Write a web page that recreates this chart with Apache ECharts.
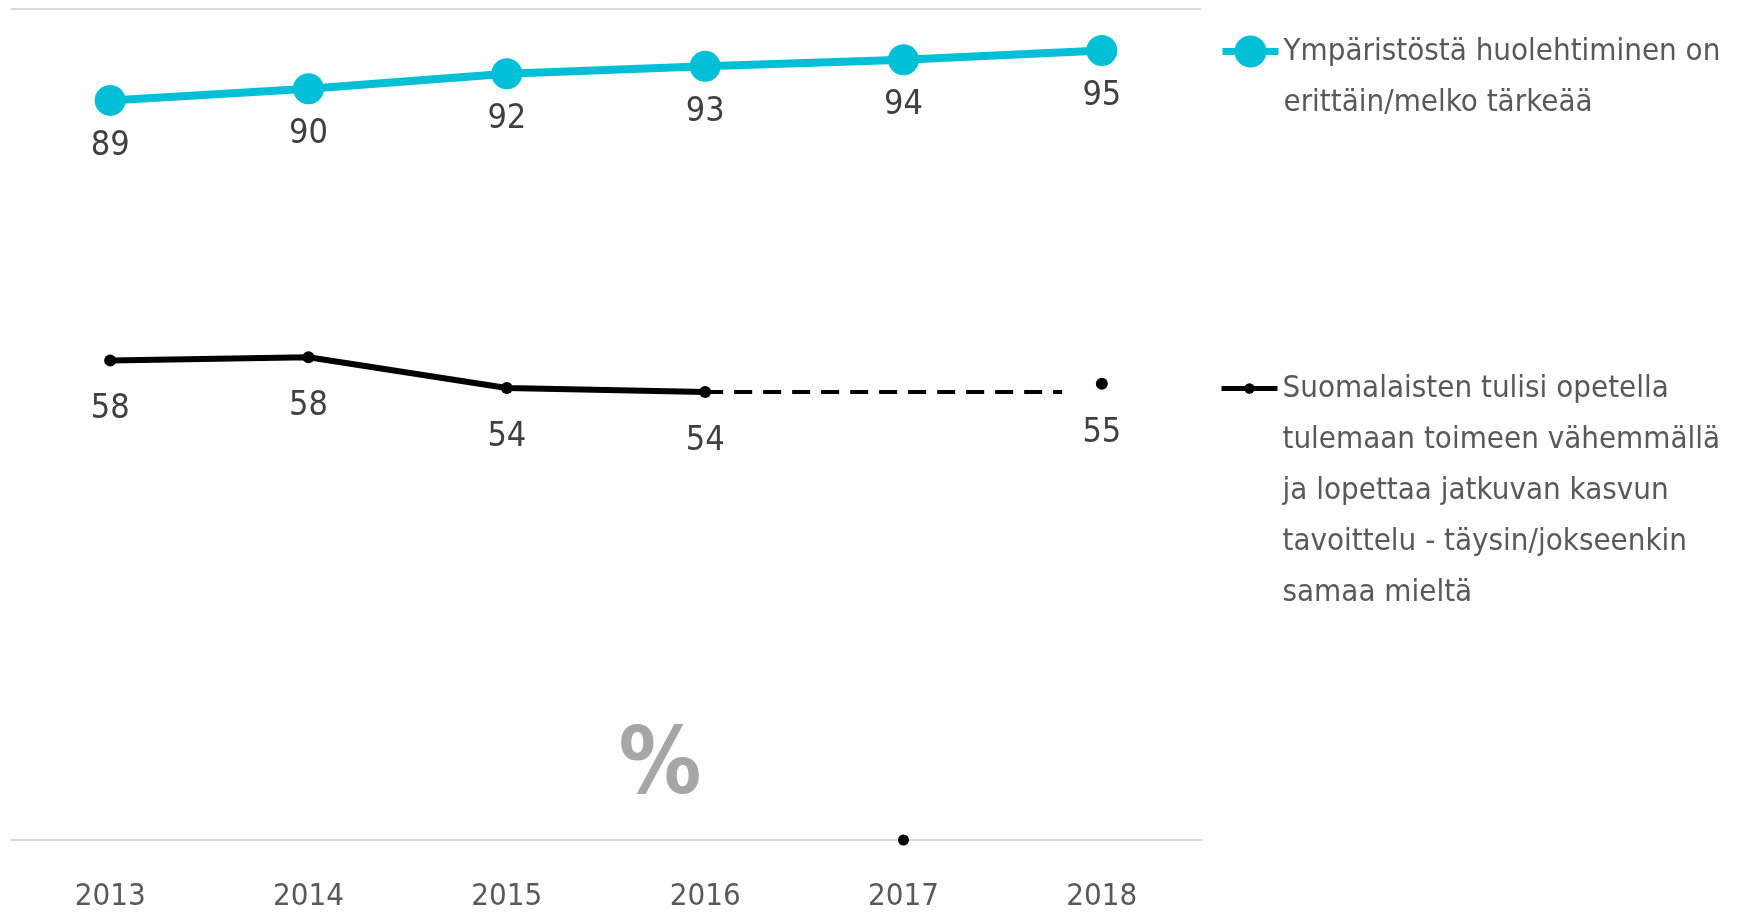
<!DOCTYPE html>
<html>
<head>
<meta charset="utf-8">
<script src="https://cdn.jsdelivr.net/npm/echarts@6/dist/echarts.min.js"></script>
<style>
  html, body { margin: 0; padding: 0; background: #fff; }
  #chart { width: 1737px; height: 913px; }
</style>
</head>
<body>
<div id="chart"></div>
<script>
const years = ['2013', '2014', '2015', '2016', '2017', '2018']
const envName = 'Ympäristöstä huolehtiminen on erittäin/melko tärkeää'
const envValues = [89.0, 90.4, 92.2, 93.1, 93.9, 95.0]
const growthName = 'Suomalaisten tulisi opetella tulemaan toimeen vähemmällä ja lopettaa jatkuvan kasvun tavoittelu - täysin/jokseenkin samaa mieltä'
const growthValues = [57.7, 58.1, 54.4, 53.9, 0, 54.9]
// dashed connector from 2016 towards 2018 (category index units)
const dashStart = 3
const dashEnd = 4.8

const FONT = "'DejaVu Sans Condensed', 'DejaVu Sans', sans-serif"
const CYAN = '#00bfd6'

// legend text split into lines like the reference
const legendLines = {}
legendLines[envName] = ['Ympäristöstä huolehtiminen on', 'erittäin/melko tärkeää']
legendLines[growthName] = ['Suomalaisten tulisi opetella', 'tulemaan toimeen vähemmällä', 'ja lopettaa jatkuvan kasvun', 'tavoittelu - täysin/jokseenkin', 'samaa mieltä']

const LH = 51
// empty lines on top keep the first text line level with the icon
function legendItem(name, top, itemHeight, lineWidth) {
  const lines = legendLines[name]
  return {
    data: [name],
    left: 1219,
    top: top,
    padding: 0,
    itemWidth: 56,
    itemHeight: itemHeight,
    selectedMode: false,
    lineStyle: { width: lineWidth },
    formatter: () => '\n'.repeat(lines.length - 1) + lines.join('\n'),
    textStyle: {
      fontFamily: FONT,
      fontSize: 31,
      color: '#595959',
      lineHeight: LH
    }
  }
}

const chart = echarts.init(document.getElementById('chart'))
chart.setOption({
  animation: false,
  grid: { left: 11, right: 536, top: 9, bottom: 73 },
  legend: [
    legendItem(envName, -25, 40, 7),
    legendItem(growthName, 159, 13, 5)
  ],
  xAxis: [{
    type: 'category',
    data: years,
    boundaryGap: true,
    axisLine: { lineStyle: { color: '#d9d9d9', width: 2 } },
    axisTick: { show: false },
    axisLabel: { fontFamily: FONT, fontSize: 31, color: '#595959', margin: 41 }
  }, {
    type: 'value',
    min: -0.5,
    max: 5.5,
    show: false
  }],
  yAxis: {
    type: 'value',
    min: 0,
    max: 100,
    interval: 100,
    axisLabel: { show: false },
    axisLine: { show: false },
    axisTick: { show: false },
    splitLine: { lineStyle: { color: '#d9d9d9', width: 2 } }
  },
  graphic: [{
    type: 'text',
    x: 660,
    y: 769,
    style: {
      text: '%',
      fontFamily: FONT,
      fontWeight: 'bold',
      fontSize: 92,
      fill: '#a6a6a6',
      align: 'center',
      verticalAlign: 'middle'
    }
  }],
  series: [{
    name: envName,
    type: 'line',
    data: envValues,
    symbol: 'circle',
    symbolSize: 31,
    color: CYAN,
    lineStyle: { width: 8, color: CYAN },
    label: {
      show: true,
      position: 'bottom',
      distance: 13,
      fontFamily: FONT,
      fontSize: 34,
      lineHeight: 34,
      color: '#404040',
      formatter: p => Math.round(p.value)
    }
  }, {
    name: growthName,
    type: 'line',
    data: growthValues.map(v => v === 0 ? null : v),
    connectNulls: false,
    symbol: 'circle',
    symbolSize: 12,
    color: '#000',
    lineStyle: { width: 6, color: '#000' },
    label: {
      show: true,
      position: 'bottom',
      distance: 26,
      fontFamily: FONT,
      fontSize: 34,
      lineHeight: 34,
      color: '#404040',
      formatter: p => Math.round(p.value)
    }
  }, {
    name: 'growthZero',
    type: 'scatter',
    data: growthValues.map(v => v === 0 ? v : null),
    symbolSize: 11,
    itemStyle: { color: '#000', opacity: 1 },
    silent: true
  }, {
    name: 'growthDash',
    type: 'line',
    xAxisIndex: 1,
    data: [[dashStart, growthValues[dashStart]], [dashEnd, growthValues[dashStart]]],
    symbol: 'none',
    silent: true,
    lineStyle: { width: 4, color: '#000', type: [18, 11] }
  }]
})
</script>
</body>
</html>
